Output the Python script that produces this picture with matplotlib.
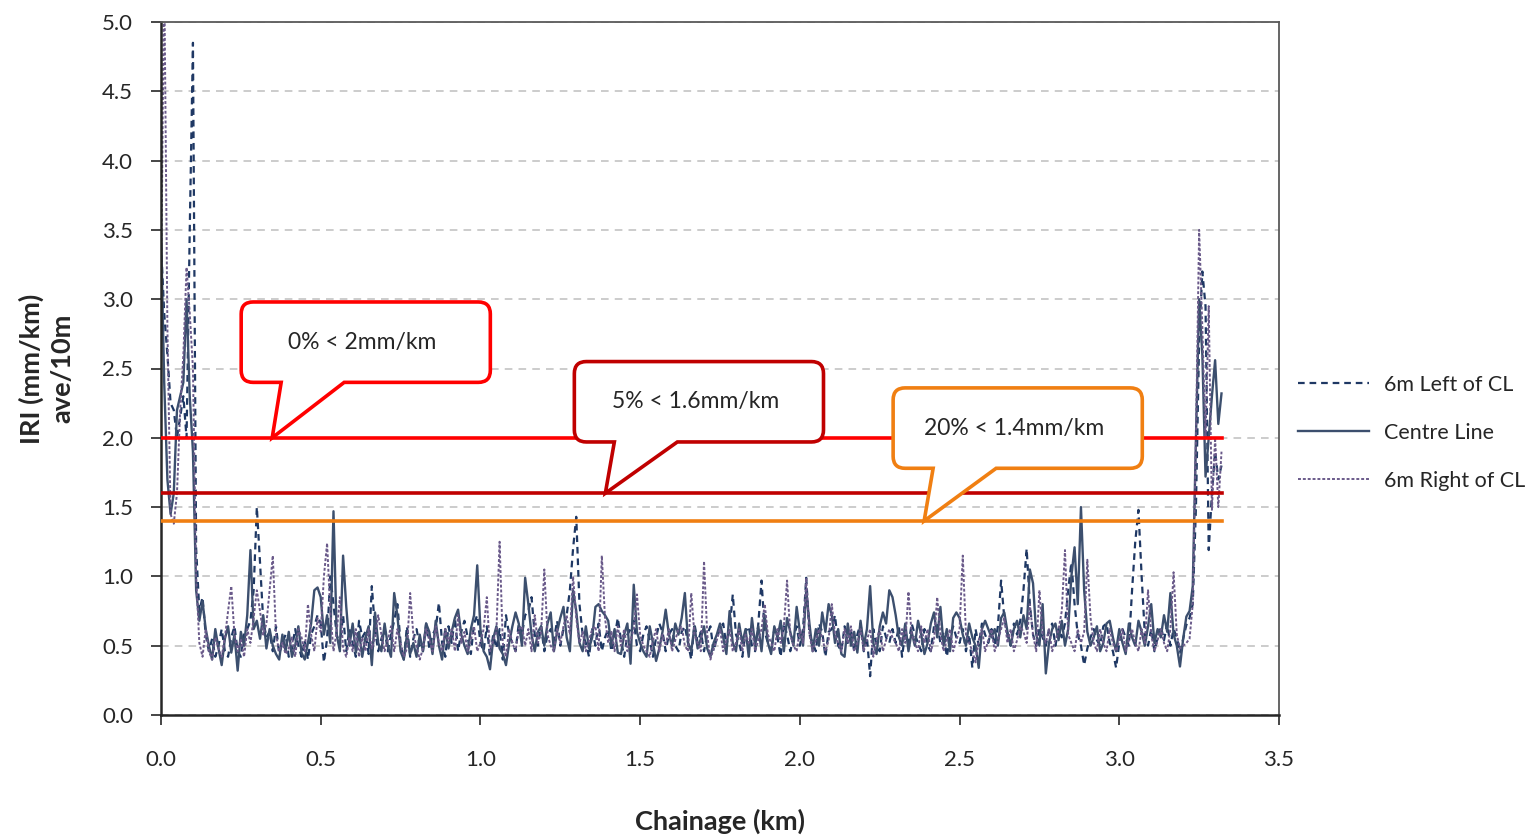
import numpy as np
import matplotlib.pyplot as plt
from matplotlib.path import Path
from matplotlib.patches import PathPatch

plt.rcParams['font.family'] = ['Lato', 'DejaVu Sans']

# IRI readings every 10 m (mm/km)
left_of_cl = [
    3.4, 2.9, 2.6, 2.25, 2.2, 2.0, 2.15, 2.3, 2.0, 3.5,
    4.85, 1.2, 0.75, 0.85, 0.58, 0.46, 0.55, 0.42, 0.5, 0.62,
    0.46, 0.42, 0.56, 0.64, 0.46, 0.42, 0.58, 0.62, 0.68, 0.9,
    1.5, 1.1, 0.68, 0.56, 0.6, 0.46, 0.64, 0.44, 0.52, 0.58,
    0.42, 0.48, 0.62, 0.5, 0.42, 0.54, 0.4, 0.58, 0.64, 0.72,
    0.66, 0.38, 0.55, 1.0, 0.8, 0.58, 0.5, 0.72, 0.46, 0.62,
    0.52, 0.42, 0.68, 0.56, 0.6, 0.44, 0.93, 0.62, 0.46, 0.55,
    0.62, 0.46, 0.58, 0.68, 0.8, 0.52, 0.4, 0.64, 0.42, 0.55,
    0.62, 0.5, 0.46, 0.66, 0.48, 0.58, 0.62, 0.81, 0.52, 0.42,
    0.64, 0.52, 0.7, 0.46, 0.6, 0.68, 0.56, 0.44, 0.66, 0.72,
    0.52, 0.46, 0.64, 0.42, 0.58, 0.48, 0.62, 0.4, 0.72, 0.58,
    0.52, 0.46, 0.66, 0.58, 0.72, 0.75, 0.85, 0.58, 0.5, 0.64,
    0.46, 0.58, 0.62, 0.54, 0.68, 0.5, 0.62, 0.72, 0.9, 1.2,
    1.43, 0.8, 0.58, 0.52, 0.42, 0.62, 0.5, 0.66, 0.46, 0.56,
    0.62, 0.46, 0.56, 0.7, 0.54, 0.42, 0.58, 0.62, 0.68, 0.5,
    0.46, 0.58, 0.64, 0.54, 0.42, 0.56, 0.66, 0.6, 0.46, 0.58,
    0.62, 0.5, 0.46, 0.6, 0.64, 0.52, 0.4, 0.66, 0.52, 0.6,
    0.46, 0.58, 0.64, 0.46, 0.56, 0.62, 0.66, 0.5, 0.62, 0.87,
    0.58, 0.52, 0.42, 0.6, 0.64, 0.5, 0.46, 0.66, 0.97, 0.6,
    0.52, 0.46, 0.62, 0.56, 0.42, 0.66, 0.58, 0.46, 0.56, 0.64,
    0.5, 0.62, 0.99, 0.58, 0.52, 0.46, 0.66, 0.6, 0.42, 0.6,
    0.62, 0.72, 0.5, 0.46, 0.64, 0.52, 0.62, 0.46, 0.58, 0.66,
    0.46, 0.56, 0.28, 0.62, 0.5, 0.46, 0.64, 0.56, 0.52, 0.62,
    0.52, 0.64, 0.42, 0.6, 0.5, 0.66, 0.58, 0.52, 0.46, 0.62,
    0.5, 0.46, 0.64, 0.66, 0.52, 0.6, 0.42, 0.56, 0.64, 0.56,
    0.52, 0.62, 0.46, 0.58, 0.34, 0.62, 0.5, 0.66, 0.58, 0.52,
    0.62, 0.5, 0.64, 0.97, 0.7, 0.58, 0.5, 0.66, 0.58, 0.68,
    0.9, 1.2, 0.8, 0.58, 0.5, 0.62, 0.56, 0.5, 0.62, 0.66,
    0.5, 0.62, 0.56, 0.66, 0.9, 1.1, 0.8, 0.58, 0.5, 0.36,
    0.48, 0.56, 0.62, 0.54, 0.5, 0.64, 0.66, 0.52, 0.46, 0.34,
    0.52, 0.62, 0.56, 0.5, 0.9, 1.25, 1.48, 1.0, 0.58, 0.5,
    0.62, 0.46, 0.56, 0.64, 0.54, 0.66, 0.5, 0.62, 0.56, 0.45,
    0.55, 0.65, 0.7, 0.8, 1.5, 2.7, 3.2, 2.95, 1.19, 1.6,
    1.9, 1.7, 1.8,
]

centre_line = [
    3.5, 2.4, 1.7, 1.45, 1.6, 2.2, 2.3, 2.4, 3.0, 2.3,
    1.9, 0.9, 0.68, 0.82, 0.62, 0.5, 0.4, 0.62, 0.48, 0.36,
    0.55, 0.64, 0.45, 0.58, 0.32, 0.6, 0.5, 0.72, 1.19, 0.62,
    0.68, 0.55, 0.72, 0.48, 0.62, 0.5, 0.44, 0.4, 0.58, 0.46,
    0.6, 0.42, 0.5, 0.64, 0.45, 0.4, 0.52, 0.66, 0.9, 0.92,
    0.85, 0.58, 0.72, 0.52, 1.47, 0.58, 0.46, 1.15, 0.78, 0.5,
    0.66, 0.45, 0.6, 0.42, 0.56, 0.64, 0.36, 0.74, 0.52, 0.46,
    0.66, 0.5, 0.42, 0.88, 0.72, 0.46, 0.4, 0.58, 0.44, 0.52,
    0.42, 0.58, 0.46, 0.66, 0.6, 0.44, 0.68, 0.5, 0.4, 0.62,
    0.48, 0.6, 0.7, 0.76, 0.58, 0.5, 0.44, 0.62, 0.72, 1.08,
    0.62, 0.46, 0.42, 0.33, 0.55, 0.64, 0.48, 0.44, 0.36, 0.52,
    0.64, 0.74, 0.66, 0.5, 0.99, 0.8, 0.58, 0.46, 0.6, 0.64,
    0.5, 0.66, 0.74, 0.46, 0.6, 0.7, 0.78, 0.56, 0.46, 0.9,
    0.75, 0.52, 0.46, 0.64, 0.48, 0.56, 0.78, 0.8, 0.75, 0.72,
    0.68, 0.5, 0.62, 0.45, 0.44, 0.58, 0.66, 0.37, 0.94, 0.6,
    0.52, 0.46, 0.42, 0.64, 0.52, 0.39, 0.48, 0.6, 0.76, 0.58,
    0.5, 0.66, 0.58, 0.7, 0.88, 0.52, 0.46, 0.64, 0.48, 0.55,
    0.64, 0.48, 0.42, 0.52, 0.58, 0.66, 0.56, 0.44, 0.75, 0.52,
    0.46, 0.66, 0.52, 0.62, 0.42, 0.7, 0.5, 0.64, 0.46, 0.72,
    0.52, 0.44, 0.64, 0.56, 0.68, 0.46, 0.7, 0.6, 0.5, 0.78,
    0.6, 0.5, 0.9, 0.66, 0.46, 0.62, 0.5, 0.74, 0.6, 0.8,
    0.72, 0.52, 0.62, 0.44, 0.42, 0.66, 0.5, 0.6, 0.45, 0.68,
    0.5, 0.62, 0.93, 0.52, 0.44, 0.64, 0.74, 0.66, 0.9, 0.85,
    0.72, 0.56, 0.5, 0.66, 0.46, 0.6, 0.5, 0.68, 0.58, 0.44,
    0.52, 0.66, 0.74, 0.56, 0.78, 0.5, 0.62, 0.46, 0.7, 0.74,
    0.7, 0.58, 0.5, 0.66, 0.56, 0.5, 0.34, 0.62, 0.68, 0.62,
    0.56, 0.62, 0.5, 0.7, 0.74, 0.6, 0.5, 0.62, 0.68, 0.56,
    0.72, 0.62, 1.05, 0.95, 0.58, 0.5, 0.8, 0.3, 0.52, 0.62,
    0.66, 0.54, 0.68, 0.5, 0.62, 1.0, 1.21, 0.8, 1.5, 0.9,
    0.6, 0.5, 0.56, 0.64, 0.46, 0.52, 0.66, 0.68, 0.56, 0.46,
    0.62, 0.52, 0.44, 0.66, 0.56, 0.5, 0.68, 0.6, 0.5, 0.64,
    0.8, 0.52, 0.62, 0.56, 0.72, 0.6, 0.88, 0.58, 0.5, 0.35,
    0.55, 0.71, 0.75, 0.93, 2.0, 3.0, 2.6, 1.72, 2.0, 2.3,
    2.56, 2.1, 2.32,
]

right_of_cl = [
    3.0, 5.4, 2.8, 1.45, 1.38, 1.6, 2.2, 2.6, 3.23, 2.9,
    2.5, 1.0, 0.52, 0.42, 0.62, 0.46, 0.4, 0.56, 0.48, 0.42,
    0.56, 0.75, 0.93, 0.58, 0.46, 0.55, 0.42, 0.62, 0.52, 0.7,
    0.9, 0.75, 0.58, 0.66, 0.9, 1.15, 0.58, 0.46, 0.52, 0.44,
    0.48, 0.56, 0.42, 0.62, 0.56, 0.46, 0.8, 0.58, 0.46, 0.7,
    0.6, 1.0, 1.24, 0.75, 0.46, 0.6, 0.85, 0.48, 0.42, 0.56,
    0.46, 0.62, 0.42, 0.56, 0.46, 0.62, 0.48, 0.56, 0.72, 0.58,
    0.46, 0.54, 0.64, 0.46, 0.62, 0.52, 0.42, 0.48, 0.88, 0.58,
    0.5, 0.4, 0.48, 0.62, 0.54, 0.46, 0.64, 0.52, 0.46, 0.62,
    0.52, 0.62, 0.46, 0.72, 0.52, 0.6, 0.46, 0.54, 0.64, 0.46,
    0.52, 0.62, 0.85, 0.46, 0.54, 0.6, 1.25, 0.52, 0.42, 0.62,
    0.52, 0.46, 0.62, 0.64, 0.5, 0.62, 0.46, 0.72, 0.52, 0.6,
    1.05, 0.58, 0.5, 0.46, 0.62, 0.52, 0.64, 0.72, 0.58, 1.0,
    0.7, 0.52, 0.6, 0.46, 0.54, 0.62, 0.64, 0.46, 1.15, 0.7,
    0.52, 0.6, 0.46, 0.64, 0.5, 0.62, 0.46, 0.54, 0.62, 0.87,
    0.58, 0.5, 0.46, 0.42, 0.54, 0.62, 0.46, 0.58, 0.5, 0.62,
    0.46, 0.54, 0.62, 0.64, 0.5, 0.46, 0.88, 0.58, 0.52, 0.46,
    1.11, 0.58, 0.4, 0.48, 0.54, 0.62, 0.46, 0.54, 0.62, 0.46,
    0.52, 0.62, 0.46, 0.58, 0.52, 0.62, 0.46, 0.54, 0.62, 0.8,
    0.58, 0.52, 0.46, 0.62, 0.52, 0.64, 0.97, 0.58, 0.5, 0.46,
    0.62, 0.52, 0.99, 0.58, 0.46, 0.54, 0.62, 0.56, 0.46, 0.54,
    0.8, 0.58, 0.52, 0.46, 0.62, 0.52, 0.64, 0.46, 0.52, 0.62,
    0.46, 0.54, 0.62, 0.42, 0.54, 0.62, 0.46, 0.54, 0.62, 0.56,
    0.52, 0.46, 0.62, 0.52, 0.89, 0.58, 0.52, 0.46, 0.64, 0.52,
    0.62, 0.46, 0.54, 0.85, 0.58, 0.46, 0.54, 0.62, 0.46, 0.54,
    0.62, 1.15, 0.58, 0.52, 0.46, 0.38, 0.54, 0.62, 0.46, 0.54,
    0.62, 0.46, 0.54, 0.62, 0.7, 0.52, 0.62, 0.46, 0.54, 0.64,
    0.6, 0.52, 0.8, 0.58, 0.46, 0.9, 0.58, 0.52, 0.62, 0.46,
    0.54, 0.62, 0.75, 1.19, 0.58, 0.52, 0.46, 0.62, 0.52, 0.6,
    1.12, 0.7, 0.52, 0.46, 0.62, 0.52, 0.46, 0.62, 0.52, 0.46,
    0.54, 0.62, 0.46, 0.54, 0.62, 0.52, 0.46, 0.62, 0.52, 0.9,
    0.58, 0.46, 0.54, 0.62, 0.52, 0.46, 0.62, 1.03, 0.58, 0.48,
    0.5, 0.52, 0.55, 0.8, 2.0, 3.5, 2.8, 2.0, 2.95, 1.48,
    2.0, 1.5, 1.9,
]

series_names = ['6m Left of CL', 'Centre Line', '6m Right of CL']

# target limits and the share of the road below each
limit_values = [2.0, 1.6, 1.4]
limit_labels = ['0% < 2mm/km', '5% < 1.6mm/km', '20% < 1.4mm/km']
limit_colors = ['#FF0000', '#C00000', '#F07F12']

fig = plt.figure(figsize=(15.36, 8.35), dpi=100)
ax = fig.add_axes([161 / 1536, 1 - 715 / 835, 1118 / 1536, 693 / 835])

step = 0.01
x_left = np.arange(len(left_of_cl)) * step
x_centre = np.arange(len(centre_line)) * step
x_right = np.arange(len(right_of_cl)) * step

l1, = ax.plot(x_left, left_of_cl, color='#1F3864', lw=1.6, ls=(0, (3, 2.2)))
l2, = ax.plot(x_centre, centre_line, color='#3C4F6E', lw=1.7, ls='-')
l3, = ax.plot(x_right, right_of_cl, color='#6A5A8A', lw=1.4, ls=(0, (1.5, 1.0)))

end_km = x_centre[-1]
for val, col in zip(limit_values, limit_colors):
    ax.plot([0, end_km], [val, val], color=col, lw=2.6, zorder=5)

ax.set_xlim(0, 3.5)
ax.set_ylim(0, 5.0)
ax.set_xticks(np.arange(0, 3.51, 0.5))
ax.set_yticks(np.arange(0, 5.01, 0.5))
ax.xaxis.set_major_formatter(plt.FormatStrFormatter('%.1f'))
ax.yaxis.set_major_formatter(plt.FormatStrFormatter('%.1f'))
ax.tick_params(axis='both', direction='out', length=7, width=1.2, labelsize=16,
               colors='#262626')
ax.tick_params(axis='x', pad=18)
ax.tick_params(axis='y', pad=13)
ax.yaxis.grid(True, color='#BFBFBF', ls=(0, (5, 4)), lw=1.1)
ax.set_axisbelow(True)
for s in ['top', 'right']:
    ax.spines[s].set_color('#595959')
    ax.spines[s].set_linewidth(1.3)
for s in ['left', 'bottom']:
    ax.spines[s].set_color('#262626')
    ax.spines[s].set_linewidth(1.8)

ax.set_xlabel('Chainage (km)', fontsize=19.5, fontweight='bold', labelpad=28, color='#262626')
ax.set_ylabel('IRI (mm/km)\nave/10m', fontsize=19.5, fontweight='bold', labelpad=20,
              color='#262626', linespacing=1.3)


def callout(ax, left, right, bottom, top, tip_x, tip_y, text, color):
    # rounded box with a pointer, corner radius the same in pixels on both axes
    rx = 12 / 319.4
    ry = 12 / 138.6
    bl = left + 40 / 319.4
    br = left + 103 / 319.4
    verts = [
        (left + rx, top), (right - rx, top),
        (right, top), (right, top - ry),
        (right, bottom + ry),
        (right, bottom), (right - rx, bottom),
        (br, bottom), (tip_x, tip_y), (bl, bottom),
        (left + rx, bottom),
        (left, bottom), (left, bottom + ry),
        (left, top - ry),
        (left, top), (left + rx, top),
        (left + rx, top),
    ]
    codes = [
        Path.MOVETO, Path.LINETO,
        Path.CURVE3, Path.CURVE3,
        Path.LINETO,
        Path.CURVE3, Path.CURVE3,
        Path.LINETO, Path.LINETO, Path.LINETO,
        Path.LINETO,
        Path.CURVE3, Path.CURVE3,
        Path.LINETO,
        Path.CURVE3, Path.CURVE3,
        Path.CLOSEPOLY,
    ]
    patch = PathPatch(Path(verts, codes), facecolor='white', edgecolor=color,
                      lw=2.6, zorder=8, clip_on=False)
    ax.add_patch(patch)
    ax.text((left + right) / 2 - 0.01, (top + bottom) / 2, text, ha='center', va='center',
            fontsize=16.5, color='#262626', zorder=9)


box_left = [0.251, 1.294, 2.292]
box_top = [2.98, 2.55, 2.36]
box_w = 0.78
box_h = 0.58
for i in range(3):
    callout(ax, box_left[i], box_left[i] + box_w, box_top[i] - box_h, box_top[i],
            box_left[i] + 31 / 319.4, limit_values[i], limit_labels[i], limit_colors[i])

fig.legend([l1, l2, l3], series_names, loc='center left',
           bbox_to_anchor=(1298 / 1536, 1 - 433 / 835), frameon=False,
           borderpad=0, borderaxespad=0,
           handlelength=3.3, fontsize=15.5, labelspacing=1.3, handletextpad=0.7,
           labelcolor='#262626')

fig.savefig('out.png', dpi=100)
